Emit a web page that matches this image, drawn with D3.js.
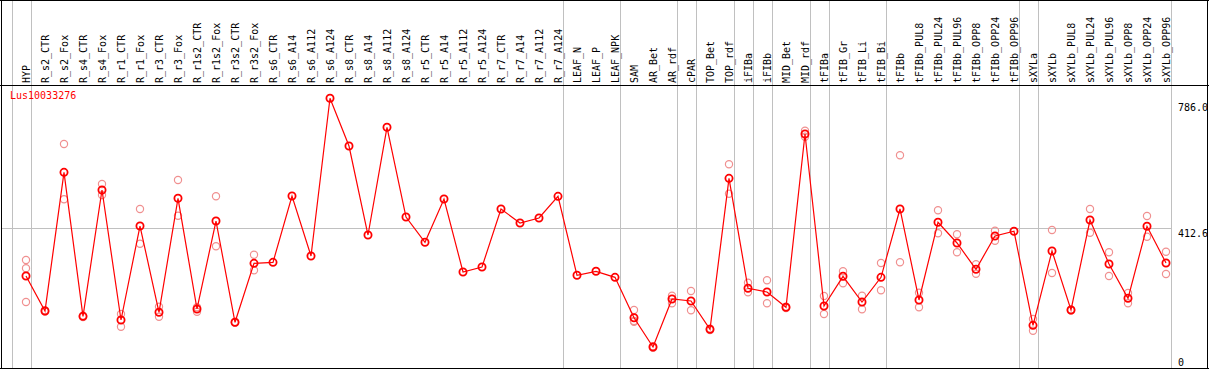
<!DOCTYPE html>
<html>
<head>
<meta charset="utf-8">
<style>
  body { margin: 0; background: #fff; }
  text { font-family: "DejaVu Sans Mono", monospace; font-size: 10px; }
</style>
</head>
<body>
<svg width="1209" height="370"></svg>
<script src="https://cdn.jsdelivr.net/npm/d3@7"></script>
<script>
// gene name shown in the corner
var geneName = "Lus10033276";

// one entry per sample, left to right
var categories = ["HYP", "R_s2_CTR", "R_s2_Fox", "R_s4_CTR", "R_s4_Fox", "R_r1_CTR", "R_r1_Fox",
  "R_r3_CTR", "R_r3_Fox", "R_r1s2_CTR", "R_r1s2_Fox", "R_r3s2_CTR", "R_r3s2_Fox", "R_s6_CTR",
  "R_s6_A14", "R_s6_A112", "R_s6_A124", "R_s8_CTR", "R_s8_A14", "R_s8_A112", "R_s8_A124",
  "R_r5_CTR", "R_r5_A14", "R_r5_A112", "R_r5_A124", "R_r7_CTR", "R_r7_A14", "R_r7_A112", "R_r7_A124",
  "LEAF_N", "LEAF_P", "LEAF_NPK", "SAM", "AR_Bet", "AR_rdf", "cPAR", "TOP_Bet", "TOP_rdf",
  "iFIBa", "iFIBb", "MID_Bet", "MID_rdf", "tFIBa", "tFIB_Gr", "tFIB_Li", "tFIB_Bi", "tFIBb",
  "tFIBb_PUL8", "tFIBb_PUL24", "tFIBb_PUL96", "tFIBb_OPP8", "tFIBb_OPP24", "tFIBb_OPP96",
  "sXYLa", "sXYLb", "sXYLb_PUL8", "sXYLb_PUL24", "sXYLb_PUL96", "sXYLb_OPP8", "sXYLb_OPP24", "sXYLb_OPP96"];

// mean expression per sample
var means = [274.4, 173.6, 572.9, 158.3, 522.0, 147.7, 418.3,
  169.9, 498.1, 179.4, 432.7, 141.1, 310.9, 313.8,
  504.7, 332.0, 786.0, 648.6, 392.4, 702.5, 444.2,
  371.4, 496.1, 285.9, 300.3, 467.3, 427.0, 441.4, 503.8,
  276.4, 287.9, 270.6, 154.3, 70.0, 208.2, 202.4, 120.9, 555.6,
  239.0, 228.3, 184.3, 683.2, 188.0, 273.5, 199.5, 270.6, 467.3,
  205.3, 429.0, 369.4, 293.7, 389.5, 403.1,
  132.4, 346.3, 176.5, 435.6, 308.9, 210.2, 417.5, 311.8];

// individual replicates per sample (empty where none are drawn)
var replicates = [[320.4, 296.5, 199.5], [172.0, 176.0], [654.4, 495.2], [160.0, 156.0], [539.2, 507.6], [165.0, 128.4], [467.3, 367.4],
  [186.0, 157.2], [550.8, 448.0], [184.3, 171.6], [503.8, 359.9], [142.0, 140.0], [335.7, 290.8], [],
  [], [], [], [], [], [], [],
  [], [], [], [], [], [], [], [],
  [], [], [], [176.5, 142.8, 145.0], [68.0, 72.0], [217.7, 195.8], [231.2, 175.6], [119.0, 123.0], [596.0, 511.3],
  [255.1, 227.4], [262.0, 195.8], [182.0, 186.0], [692.7, 675.4], [216.8, 165.0], [287.9, 253.4], [217.7, 178.5], [311.8, 233.2], [621.9, 313.8],
  [226.3, 184.3], [463.5, 397.3], [394.4, 342.6], [308.1, 281.0], [404.8, 376.0], [],
  [150.6, 116.9], [406.8, 283.0], [175.0, 178.0], [467.3, 399.0], [342.6, 274.4], [225.4, 195.8], [447.1, 387.5], [344.3, 280.1]];

// last sample of each tissue group (a grey separator follows it)
var groupEnds = ["HYP", "R_r7_A124", "LEAF_NPK", "AR_rdf", "cPAR", "TOP_rdf", "iFIBa", "iFIBb",
  "MID_rdf", "tFIBa", "tFIB_Bi", "tFIBb_OPP96", "sXYLa", "sXYLb_OPP96"];

// y axis labels
var yTicks = [0, 412.6, 786.0];
var yTickLabels = ["0", "412.6", "786.0"];
var gridValue = 412.6;

var svg = d3.select("svg");
var W = +svg.attr("width"), H = +svg.attr("height");
var headerH = 85, bottom = 368;

var x = d3.scalePoint().domain(categories).range([26, 1166]);
var step = x.step();
var y = d3.scaleLinear().domain([0, 786]).range([371.3, 98.3]);

// group separators
var sepX = [x(categories[0]) - step + step / 4].concat(groupEnds.map(function (c) { return x(c) + step / 4; }));
svg.append("g").selectAll("line").data(sepX).enter().append("line")
  .attr("x1", function (d) { return Math.round(d) + 0.5; })
  .attr("x2", function (d) { return Math.round(d) + 0.5; })
  .attr("y1", 0).attr("y2", bottom)
  .attr("stroke", "#c0c0c0").attr("stroke-width", 1);

// horizontal grid line
svg.append("line")
  .attr("x1", 1).attr("x2", Math.round(d3.max(sepX)) + 0.5)
  .attr("y1", Math.round(y(gridValue)) + 0.5).attr("y2", Math.round(y(gridValue)) + 0.5)
  .attr("stroke", "#c0c0c0").attr("stroke-width", 1);

// frame
svg.append("g").selectAll("line")
  .data([[0, 0.5, W, 0.5], [0, headerH + 0.5, W, headerH + 0.5], [0, bottom + 0.5, W, bottom + 0.5],
         [1.5, 0, 1.5, bottom + 1], [W - 1.5, 0, W - 1.5, bottom + 1]])
  .enter().append("line")
  .attr("x1", function (d) { return d[0]; }).attr("y1", function (d) { return d[1]; })
  .attr("x2", function (d) { return d[2]; }).attr("y2", function (d) { return d[3]; })
  .attr("stroke", "#000").attr("stroke-width", 1);

// sample labels, rotated
svg.append("g").selectAll("text").data(categories).enter().append("text")
  .attr("transform", function (d) { return "translate(" + (x(d) + 3.5) + "," + (headerH - 2) + ") rotate(-90)"; })
  .attr("fill", "#000")
  .text(function (d) { return d; });

// y labels on the right
svg.append("g").selectAll("text").data(yTicks).enter().append("text")
  .attr("x", x(categories[categories.length - 1]) + 12)
  .attr("y", function (d) { return Math.max(Math.min(y(d) + 9, bottom - 2), headerH + 26); })
  .attr("fill", "#000")
  .text(function (d, i) { return yTickLabels[i]; });

// gene name
svg.append("text").attr("x", 10).attr("y", headerH + 14)
  .attr("fill", "#ff0000").text(geneName);

// replicate circles
var repPts = [];
replicates.forEach(function (r, i) { r.forEach(function (v) { repPts.push([categories[i], v]); }); });
svg.append("g").selectAll("circle").data(repPts).enter().append("circle")
  .attr("cx", function (d) { return x(d[0]); })
  .attr("cy", function (d) { return y(d[1]); })
  .attr("r", 3.6)
  .attr("fill", "none").attr("stroke", "#f09090").attr("stroke-width", 1.2);

// mean line
var line = d3.line()
  .x(function (d, i) { return x(categories[i]); })
  .y(function (d) { return y(d); });
svg.append("path").datum(means)
  .attr("d", line).attr("fill", "none").attr("stroke", "#ff0000").attr("stroke-width", 1.2);

// mean circles
svg.append("g").selectAll("circle").data(means).enter().append("circle")
  .attr("cx", function (d, i) { return x(categories[i]); })
  .attr("cy", function (d) { return y(d); })
  .attr("r", 3.6)
  .attr("fill", "none").attr("stroke", "#ff0000").attr("stroke-width", 1.8);
</script>
</body>
</html>
